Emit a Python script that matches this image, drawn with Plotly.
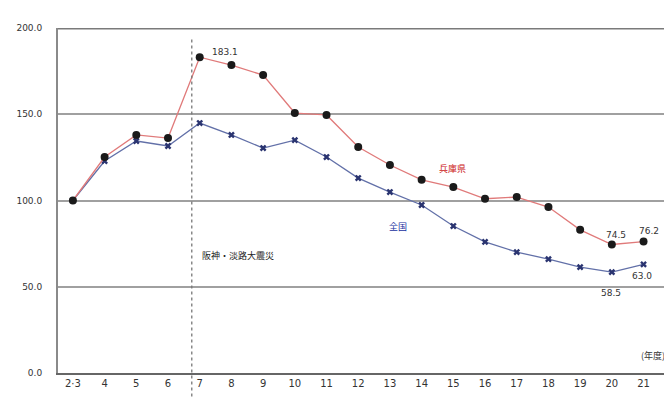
import plotly.graph_objects as go

categories = ["2·3", "4", "5", "6", "7", "8", "9", "10", "11", "12", "13", "14",
              "15", "16", "17", "18", "19", "20", "21"]
hyogo = [100.0, 125.2, 138.0, 136.2, 183.1, 178.5, 172.7, 150.7, 149.6, 131.0,
         120.6, 112.0, 107.8, 101.0, 102.0, 96.2, 83.0, 74.5, 76.2]
zenkoku = [100.0, 122.9, 134.5, 131.6, 144.9, 138.0, 130.4, 135.0, 125.2, 113.0,
           104.9, 97.4, 85.2, 76.0, 70.1, 66.0, 61.4, 58.5, 63.0]
y_ticks = [0, 50, 100, 150, 200]
y_tick_text = ["0.0", "50.0", "100.0", "150.0", "200.0"]

xs = list(range(len(categories)))
jp = "Noto Sans CJK JP"

fig = go.Figure()
fig.add_trace(go.Scatter(
    x=xs, y=zenkoku, mode="lines+markers", name="全国",
    line=dict(color="#6270a8", width=1.3),
    marker=dict(symbol="x", size=6, color="#2a3470"),
))
fig.add_trace(go.Scatter(
    x=xs, y=hyogo, mode="lines+markers", name="兵庫県",
    line=dict(color="#e07a7a", width=1.3),
    marker=dict(symbol="circle", size=8, color="#1a1a1a"),
))

# top border
fig.add_shape(type="line", xref="paper", yref="y", x0=0, x1=1, y0=200, y1=200,
              line=dict(color="#7a7a7a", width=3))
# earthquake marker line
fig.add_shape(type="line", xref="x", yref="paper", x0=3.75, x1=3.75, y0=-0.12, y1=0.97,
              line=dict(color="#777777", width=1.3, dash="dot"))

ann = [
    dict(x=4.8, y=186, text="183.1", color="#333333", xanchor="center", size=9),
    dict(x=11.96, y=118.8, text="兵庫県", color="#cc2020", xanchor="center", size=9, font=jp),
    dict(x=10.25, y=85.2, text="全国", color="#2030a0", xanchor="center", size=9, font=jp),
    dict(x=4.0, y=68.4, text="阪神・淡路大震災", color="#222222", xanchor="left", size=9, font=jp),
    dict(x=17.13, y=80, text="74.5", color="#333333", xanchor="center", size=9),
    dict(x=18.17, y=82.3, text="76.2", color="#333333", xanchor="center", size=9),
    dict(x=17.95, y=56.2, text="63.0", color="#333333", xanchor="center", size=9),
    dict(x=16.97, y=46.4, text="58.5", color="#333333", xanchor="center", size=9),
    dict(x=18.75, y=10.4, text="(年度)", color="#333333", xanchor="right", size=9, font=jp),
]
for a in ann:
    fig.add_annotation(x=a["x"], y=a["y"], text=a["text"], showarrow=False,
                       xanchor=a["xanchor"], yanchor="middle",
                       font=dict(color=a["color"], size=a["size"],
                                 family=a.get("font", "DejaVu Sans")))

fig.update_layout(
    width=672, height=399,
    margin=dict(l=50, r=0, t=20, b=34),
    paper_bgcolor="white", plot_bgcolor="white",
    showlegend=False,
    xaxis=dict(range=[-0.47, 19.15], tickmode="array", tickvals=xs, ticktext=categories,
               showgrid=False, zeroline=False, showline=True, linecolor="#666666",
               linewidth=2, ticks="", tickfont=dict(size=10, color="#333333", family="DejaVu Sans")),
    yaxis=dict(range=[0, 200], tickmode="array", tickvals=y_ticks, ticktext=y_tick_text,
               showgrid=True, gridcolor="#a0a0a0", gridwidth=1.5, zeroline=False,
               showline=True, linecolor="#8a8a8a", linewidth=2, ticks="", ticklen=0,
               ticklabelstandoff=12,
               tickfont=dict(size=9, color="#333333", family="DejaVu Sans")),
)

fig.write_html("out.html")
